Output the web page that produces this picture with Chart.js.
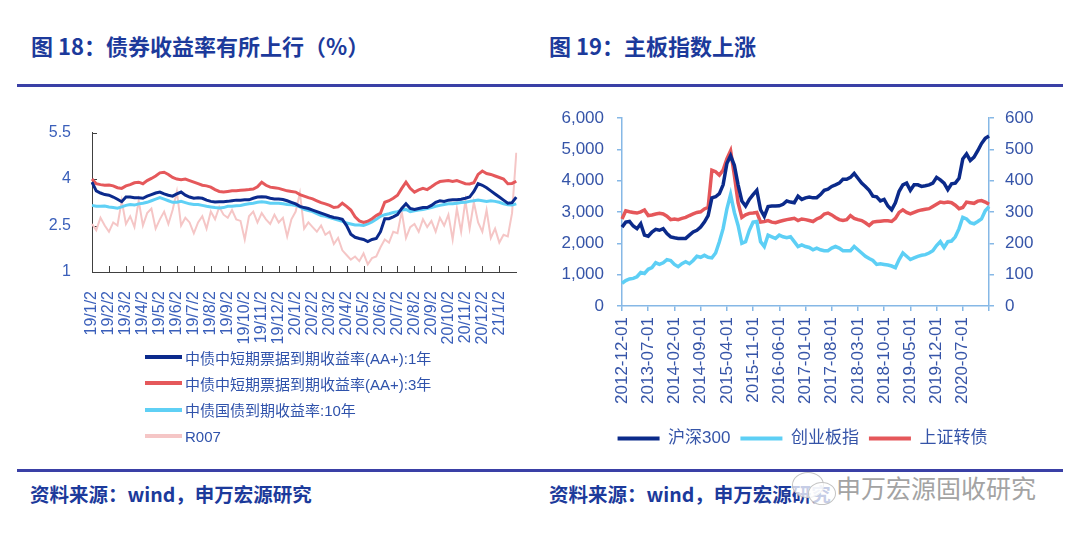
<!DOCTYPE html>
<html>
<head>
<meta charset="utf-8">
<script src="https://cdn.jsdelivr.net/npm/chart.js@4.4.1/dist/chart.umd.min.js"></script>
<style>
  body { margin:0; width:1080px; height:533px; background:#fff; position:relative; overflow:hidden;
         font-family:"Liberation Sans","Noto Sans CJK SC",sans-serif; }
  .title { position:absolute; font-family:"Noto Sans CJK SC","Liberation Sans",sans-serif; font-weight:bold;
           font-size:22px; line-height:24px; color:#1c3a9b; white-space:nowrap; }
  .src { position:absolute; font-family:"Noto Sans CJK SC","Liberation Sans",sans-serif; font-weight:bold;
         font-size:19.5px; line-height:22px; color:#1c3a9b; white-space:nowrap; }
  .rule { position:absolute; background:#3a40a6; }
  canvas { position:absolute; }
  #leg1 { position:absolute; left:145px; top:344px; font-size:15px; color:#2f52ab; }
  #leg1 .row { height:26.3px; display:flex; align-items:center; white-space:nowrap; }
  #leg1 .sw { width:37px; height:4px; margin-right:3px; }
  .wm { position:absolute; left:836px; top:472px; font-family:"Noto Sans CJK SC",sans-serif; font-size:25px;
        line-height:30px; color:#a3a3a3; white-space:nowrap; }
  .bub { position:absolute; border:1.5px solid #c4c4c4; border-radius:50%; background:rgba(255,255,255,0.75); }
</style>
</head>
<body>
<div class="title" style="left:31px;top:33px;">图 18：债券收益率有所上行（%）</div>
<div class="title" style="left:549px;top:33px;">图 19：主板指数上涨</div>
<div class="rule" style="left:17px;top:84px;width:1046px;height:3px;"></div>
<div class="rule" style="left:17px;top:469px;width:530px;height:3px;"></div>
<div class="rule" style="left:547px;top:469px;width:516px;height:2.5px;"></div>
<div class="src" style="left:30px;top:483px;">资料来源：wind，申万宏源研究</div>
<div class="src" style="left:549px;top:483px;">资料来源：wind，申万宏源研究</div>
<div class="bub" style="left:792px;top:472px;width:30px;height:24px;"></div>
<div class="bub" style="left:808px;top:482px;width:26px;height:21px;"></div>
<div class="wm">申万宏源固收研究</div>

<canvas id="c1" width="510" height="235" style="left:20px;top:110px;"></canvas>
<div id="leg1"></div>
<canvas id="c2" width="515" height="362" style="left:545px;top:95px;"></canvas>

<script>
// ---------------- Figure 18 data (4 readings per month, 19/1/2 .. ~21/2) ----------------
const monthLabels18 = ['19/1/2','19/2/2','19/3/2','19/4/2','19/5/2','19/6/2','19/7/2','19/8/2','19/9/2',
  '19/10/2','19/11/2','19/12/2','20/1/2','20/2/2','20/3/2','20/4/2','20/5/2','20/6/2','20/7/2','20/8/2',
  '20/9/2','20/10/2','20/11/2','20/12/2','21/1/2'];
const seriesNames18 = ['中债中短期票据到期收益率(AA+):1年','中债中短期票据到期收益率(AA+):3年','中债国债到期收益率:10年','R007'];
const cp1Y = [3.90,3.62,3.55,3.50, 3.48,3.42,3.35,3.27, 3.42,3.42,3.40,3.40, 3.38,3.45,3.50,3.55,
  3.58,3.52,3.48,3.45, 3.52,3.58,3.48,3.42, 3.38,3.40,3.38,3.32, 3.28,3.26,3.27,3.27,
  3.28,3.30,3.32,3.32, 3.33,3.33,3.38,3.42, 3.43,3.42,3.38,3.36, 3.36,3.34,3.30,3.25,
  3.20,3.12,3.08,3.05, 3.00,2.95,2.90,2.85, 2.80,2.76,2.74,2.70, 2.50,2.22,2.12,2.08,
  2.05,1.98,2.05,2.08, 2.30,2.72,2.72,2.78, 2.85,3.05,3.20,3.05, 3.02,3.05,3.08,3.08,
  3.15,3.25,3.30,3.28, 3.32,3.33,3.33,3.35, 3.38,3.42,3.60,3.85, 3.80,3.72,3.62,3.52,
  3.42,3.32,3.22,3.24, 3.42];
const cp3Y = [4.00,3.85,3.82,3.80, 3.81,3.78,3.72,3.70, 3.78,3.82,3.88,3.90, 3.85,3.95,4.02,4.10,
  4.20,4.22,4.15,4.05, 4.00,3.98,4.00,3.95, 3.90,3.85,3.80,3.78, 3.74,3.66,3.60,3.58,
  3.60,3.62,3.62,3.64, 3.65,3.66,3.68,3.75, 3.90,3.80,3.74,3.72, 3.70,3.66,3.62,3.60,
  3.58,3.50,3.45,3.40, 3.36,3.30,3.24,3.20, 3.15,3.08,3.10,3.22, 3.12,3.00,2.78,2.65,
  2.60,2.64,2.72,2.82, 2.90,3.25,3.30,3.38, 3.48,3.70,3.90,3.70, 3.58,3.65,3.70,3.66,
  3.75,3.85,3.92,3.94, 3.95,3.92,3.95,3.90, 3.85,3.84,3.88,4.15, 4.26,4.18,4.15,4.10,
  4.05,4.00,3.85,3.86, 3.93];
const gov10Y = [3.15,3.12,3.12,3.13, 3.10,3.08,3.06,3.10, 3.15,3.18,3.16,3.20, 3.22,3.25,3.30,3.35,
  3.40,3.35,3.30,3.25, 3.25,3.28,3.24,3.20, 3.18,3.18,3.15,3.12, 3.10,3.08,3.07,3.08,
  3.12,3.12,3.14,3.15, 3.18,3.20,3.22,3.25, 3.27,3.25,3.22,3.22, 3.22,3.20,3.18,3.17,
  3.15,3.10,3.02,2.98, 2.95,2.88,2.82,2.80, 2.76,2.72,2.68,2.64, 2.58,2.55,2.52,2.52,
  2.50,2.55,2.62,2.70, 2.80,2.85,2.88,2.92, 2.95,3.00,3.02,2.95, 2.98,3.00,3.02,3.05,
  3.08,3.12,3.15,3.18, 3.20,3.20,3.22,3.24, 3.25,3.28,3.30,3.32, 3.30,3.28,3.30,3.28,
  3.25,3.20,3.17,3.16, 3.20];
const r007 = [2.55,2.35,2.75,2.50, 2.30,2.60,2.50,3.30, 2.55,2.80,2.45,3.30, 2.50,2.90,3.05,2.40,
  2.70,2.95,2.55,3.00, 3.60,2.50,2.75,2.60, 2.25,2.60,2.80,2.40, 2.95,2.70,3.10,2.85,
  2.75,3.00,2.70,2.65, 2.05,2.80,2.95,2.60, 2.90,2.70,2.55,2.85, 2.60,2.75,2.15,2.70,
  2.95,3.55,2.40,2.60, 2.45,2.30,2.50,2.20, 2.30,1.90,2.10,1.70, 1.55,1.40,1.50,1.35,
  1.60,1.25,1.45,1.50, 1.80,2.05,1.95,2.30, 2.25,2.95,2.10,2.45, 2.55,2.30,2.70,2.45,
  2.65,2.30,2.75,2.50, 2.85,2.05,3.05,2.30, 3.30,2.40,3.25,2.60, 2.30,3.00,2.10,2.40,
  1.95,2.20,2.15,2.90, 4.85];
const yTicks18 = [1, 2.5, 4, 5.5];

// ---------------- Figure 19 data (monthly, 2012-12 .. 2021-02) ----------------
const tickLabels19 = ['2012-12-01','2013-07-01','2014-02-01','2014-09-01','2015-04-01','2015-11-01',
  '2016-06-01','2017-01-01','2017-08-01','2018-03-01','2018-10-01','2019-05-01','2019-12-01','2020-07-01'];
const seriesNames19 = ['沪深300','创业板指','上证转债'];
const hs300 = [2520,2680,2700,2555,2470,2630,2265,2230,2365,2450,2420,2470,2315,2210,2180,2160,2160,2160,
  2265,2365,2420,2520,2680,2885,3455,3490,3590,3870,4550,4800,4495,3870,3355,3195,3405,3560,3695,3075,
  2865,3175,3195,3195,3200,3250,3355,3320,3300,3510,3405,3455,3480,3455,3460,3560,3695,3735,3820,3870,
  3925,4050,4050,4110,4235,4080,3925,3820,3695,3510,3490,3355,3405,3195,3075,3300,3665,3870,3925,3695,
  3870,3870,3820,3840,3870,3925,4110,4030,3925,3715,3905,3925,4080,4700,4860,4650,4755,4960,5190,5355,5430];
const chinext = [727,810,862,882,934,1069,1038,1173,1225,1381,1329,1381,1484,1453,1329,1256,1350,1412,
  1350,1453,1588,1557,1619,1557,1536,1692,2055,2471,3094,3560,2990,2574,2004,2055,2419,2678,2699,2055,
  1900,2263,2211,2159,2263,2211,2180,2211,2055,1900,1952,1900,1869,1796,1848,1796,1765,1765,1848,1900,
  1848,1765,1765,1765,1900,1796,1692,1588,1516,1453,1329,1350,1329,1308,1277,1225,1484,1692,1588,1484,
  1536,1588,1619,1640,1692,1765,1931,2055,1869,2055,2076,2211,2471,2834,2782,2658,2626,2699,2782,3042,3177];
const cbIndex = [278,304,301,299,297,301,307,289,291,294,296,294,287,276,278,276,280,283,289,294,299,301,
  310,315,434,429,418,434,470,496,418,330,283,291,296,297,299,268,270,273,268,266,270,273,276,278,280,273,
  278,276,273,270,278,283,294,297,291,283,276,273,276,289,280,276,273,266,257,268,270,271,272,272,270,280,
  299,307,299,294,299,304,307,309,311,318,325,332,330,332,330,322,311,315,332,330,328,335,337,332,325];
const yTicksLeft19 = [0,1000,2000,3000,4000,5000,6000];
const yTicksRight19 = [0,100,200,300,400,500,600];

// ---------------- tables built from the arrays ----------------
const cats18 = [];
monthLabels18.forEach(m => { cats18.push(m, '', '', ''); });
cats18.push('');

const cats19 = [];
for (let y = 2012, m = 12; cats19.length < hs300.length; ) {
  cats19.push(y + '-' + String(m).padStart(2, '0') + '-01');
  m++; if (m > 12) { m = 1; y++; }
}

const tickFont = {family: "'Liberation Sans','Noto Sans CJK SC',sans-serif"};

// inward tick marks for figure 18
const innerTicks = {
  id: 'innerTicks',
  beforeDatasetsDraw(chart) {
    const {ctx} = chart; const xs = chart.scales.x, ys = chart.scales.y;
    ctx.save(); ctx.strokeStyle = '#404040'; ctx.lineWidth = 1;
    ctx.beginPath();
    cats18.forEach((c, i) => {
      if (c !== '' && i > 0) {
        const px = Math.round(xs.getPixelForValue(i)) + 0.5;
        ctx.moveTo(px, xs.top); ctx.lineTo(px, xs.top - 6);
      }
    });
    yTicks18.forEach(v => {
      const py = Math.round(ys.getPixelForValue(v)) + 0.5;
      ctx.moveTo(ys.right, py); ctx.lineTo(ys.right + 5, py);
    });
    ctx.stroke(); ctx.restore();
  }
};

const colors18 = ['#0b2a8c', '#e5585b', '#5fd0f5', '#f5c6c6'];
const widths18 = [3, 3, 3, 2];
const chart1 = new Chart(document.getElementById('c1'), {
  type: 'line',
  data: {
    labels: cats18,
    datasets: [cp1Y, cp3Y, gov10Y, r007].map((d, i) => ({
      label: seriesNames18[i], data: d, borderColor: colors18[i], backgroundColor: colors18[i],
      borderWidth: widths18[i], pointRadius: 0, tension: 0, fill: false
    }))
  },
  options: {
    responsive: false, animation: false, devicePixelRatio: 1,
    layout: {padding: {top: 17, right: 12, left: 0, bottom: 0}},
    plugins: {legend: {display: false}, tooltip: {enabled: false}},
    scales: {
      x: {
        type: 'category', offset: false,
        grid: {display: false},
        border: {display: true, color: '#404040', width: 1},
        ticks: {autoSkip: false, maxRotation: 90, minRotation: 90, padding: 11, color: '#3a5fba',
                font: {...tickFont, size: 16},
                callback: (v, i) => cats18[i] === '' ? null : cats18[i]},
        afterFit: s => { s.height = 73; }
      },
      y: {
        min: 1, max: 5.5,
        afterBuildTicks: s => { s.ticks = yTicks18.map(v => ({value: v})); },
        grid: {display: false},
        border: {display: true, color: '#404040', width: 1},
        ticks: {padding: 13, color: '#3a5fba', font: {...tickFont, size: 16}},
        afterFit: s => { s.width = 72; }
      }
    }
  },
  plugins: [innerTicks]
});

// HTML legend for figure 18 (vertical list) from the chart's datasets
const leg1 = document.getElementById('leg1');
chart1.data.datasets.forEach(ds => {
  const row = document.createElement('div'); row.className = 'row';
  const sw = document.createElement('span'); sw.className = 'sw'; sw.style.background = ds.borderColor;
  const tx = document.createElement('span'); tx.textContent = ds.label;
  row.appendChild(sw); row.appendChild(tx); leg1.appendChild(row);
});

// ---------------- Figure 19 ----------------
const axisBlue = '#86b8e6';
const labelBlue = '#3554a8';
const colors19 = ['#0b2a8a', '#5dcff5', '#e5575a'];
new Chart(document.getElementById('c2'), {
  type: 'line',
  data: {
    labels: cats19,
    datasets: [
      {label: seriesNames19[0], data: hs300, yAxisID: 'y'},
      {label: seriesNames19[1], data: chinext, yAxisID: 'y'},
      {label: seriesNames19[2], data: cbIndex, yAxisID: 'y1'}
    ].map((d, i) => Object.assign(d, {borderColor: colors19[i], backgroundColor: colors19[i],
      borderWidth: 3.5, pointRadius: 0, tension: 0, fill: false}))
  },
  options: {
    responsive: false, animation: false, devicePixelRatio: 1,
    layout: {padding: {top: 18, right: 0, left: 0, bottom: 0}},
    plugins: {
      tooltip: {enabled: false},
      legend: {
        position: 'bottom',
        labels: {
          boxWidth: 42, boxHeight: 4, padding: 10, color: labelBlue,
          font: {...tickFont, size: 17},
          generateLabels: ch => ch.data.datasets.map((ds, i) => ({
            text: ds.label, fillStyle: ds.borderColor, strokeStyle: ds.borderColor, lineWidth: 0,
            hidden: false, datasetIndex: i, fontColor: labelBlue
          }))
        }
      }
    },
    scales: {
      x: {
        type: 'category', offset: false,
        grid: {display: true, drawOnChartArea: false, drawTicks: true, tickLength: 5, color: axisBlue, lineWidth: 1.5},
        border: {display: true, color: axisBlue, width: 1.5},
        ticks: {autoSkip: false, maxRotation: 90, minRotation: 90, padding: 6, color: labelBlue,
                font: {...tickFont, size: 17},
                callback: (v, i) => {
                  const c = cats19[i];
                  if (tickLabels19.includes(c)) return c;
                  if (i === cats19.length - 1) return '';
                  return null;
                }},
        afterFit: s => { s.height = 114; }
      },
      y: {
        position: 'left', min: 0, max: 6000,
        afterBuildTicks: s => { s.ticks = yTicksLeft19.map(v => ({value: v})); },
        grid: {display: true, drawOnChartArea: false, drawTicks: true, tickLength: 5, color: axisBlue, lineWidth: 1.5},
        border: {display: true, color: axisBlue, width: 1.5},
        ticks: {padding: 13, color: labelBlue, font: {...tickFont, size: 17},
                callback: v => Number(v).toLocaleString('en-US')},
        afterFit: s => { s.width = 77; }
      },
      y1: {
        position: 'right', min: 0, max: 600,
        afterBuildTicks: s => { s.ticks = yTicksRight19.map(v => ({value: v})); },
        grid: {display: true, drawOnChartArea: false, drawTicks: true, tickLength: 5, color: axisBlue, lineWidth: 1.5},
        border: {display: true, color: axisBlue, width: 1.5},
        ticks: {padding: 11, color: labelBlue, font: {...tickFont, size: 17}},
        afterFit: s => { s.width = 71; }
      }
    }
  }
});
</script>
</body>
</html>
